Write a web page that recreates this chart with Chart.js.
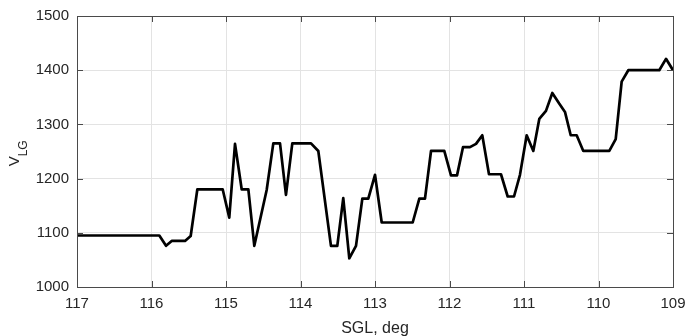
<!DOCTYPE html>
<html>
<head>
<meta charset="utf-8">
<script src="https://cdn.jsdelivr.net/npm/chart.js@4/dist/chart.umd.min.js"></script>
<style>
  html, body { margin: 0; padding: 0; background: #fff; }
  #wrap { width: 688px; height: 336px; }
</style>
</head>
<body>
<div id="wrap"><canvas id="c" width="688" height="336"></canvas></div>
<script>
// SGL angle (deg) and the corresponding V_LG readings
const sglDeg = [
  117.00, 115.895, 115.805, 115.729, 115.55, 115.474, 115.385, 115.044, 114.956, 114.879,
  114.789, 114.70, 114.62, 114.454, 114.365, 114.275, 114.195, 114.11, 113.859, 113.761,
  113.591, 113.506, 113.426, 113.345, 113.255, 113.170, 113.09, 113.00, 112.910, 112.494,
  112.405, 112.329, 112.248, 112.07, 111.98, 111.899, 111.819, 111.725, 111.644, 111.56,
  111.47, 111.309, 111.219, 111.134, 111.054, 110.964, 110.875, 110.795, 110.705, 110.62,
  110.53, 110.45, 110.373, 110.293, 110.204, 109.855, 109.769, 109.689, 109.60, 109.184,
  109.094, 109.00
];
const vLG = [
  1095, 1095, 1076, 1085, 1085, 1094, 1180, 1180, 1128, 1264,
  1180, 1180, 1076, 1179, 1265, 1265, 1170, 1265, 1265, 1251,
  1076, 1076, 1164, 1053, 1076, 1163, 1163, 1207, 1119, 1119,
  1163, 1163, 1251, 1251, 1206, 1206, 1258, 1258, 1264, 1280,
  1208, 1208, 1167, 1167, 1207, 1280, 1251, 1310, 1325, 1358,
  1339, 1323, 1280, 1280, 1251, 1251, 1273, 1379, 1400, 1400,
  1421, 1400
];
const xTicks = [117, 116, 115, 114, 113, 112, 111, 110, 109];
const yTicks = [1000, 1100, 1200, 1300, 1400, 1500];
const xTitle = 'SGL, deg';
const yTitleMain = 'V';
const yTitleSub = 'LG';

const FONT = '"Liberation Sans", Arial, Helvetica, sans-serif';
const AXIS_COLOR = '#4a4a4a';
const TEXT_COLOR = '#262626';

// Box outline, inward tick marks on all four sides, and axis titles
const frame = {
  id: 'frame',
  afterDraw(chart) {
    const { ctx, chartArea: a, scales: { x, y } } = chart;
    const L = 6;
    ctx.save();
    ctx.strokeStyle = AXIS_COLOR;
    ctx.lineWidth = 1;
    ctx.strokeRect(Math.round(a.left) + 0.5, Math.round(a.top) + 0.5,
                   Math.round(a.right - a.left), Math.round(a.bottom - a.top));
    ctx.beginPath();
    xTicks.forEach(v => {
      const px = Math.round(x.getPixelForValue(v)) + 0.5;
      ctx.moveTo(px, a.bottom); ctx.lineTo(px, a.bottom - L);
      ctx.moveTo(px, a.top); ctx.lineTo(px, a.top + L);
    });
    yTicks.forEach(v => {
      const py = Math.round(y.getPixelForValue(v)) + 0.5;
      ctx.moveTo(a.left, py); ctx.lineTo(a.left + L, py);
      ctx.moveTo(a.right, py); ctx.lineTo(a.right - L, py);
    });
    ctx.stroke();

    ctx.fillStyle = TEXT_COLOR;
    ctx.font = '16px ' + FONT;
    ctx.textAlign = 'center';
    ctx.textBaseline = 'alphabetic';
    ctx.fillText(xTitle, (a.left + a.right) / 2, 332.5);

    // rotated y title with subscript
    ctx.translate(18.5, 153.3);
    ctx.rotate(-Math.PI / 2);
    ctx.textAlign = 'left';
    ctx.font = '15px ' + FONT;
    const wMain = ctx.measureText(yTitleMain).width;
    ctx.font = '12px ' + FONT;
    const wSub = ctx.measureText(yTitleSub).width;
    const start = -(wMain + wSub) / 2;
    ctx.font = '15px ' + FONT;
    ctx.fillText(yTitleMain, start, 0);
    ctx.font = '12px ' + FONT;
    ctx.fillText(yTitleSub, start + wMain, 8);
    ctx.restore();
  }
};

new Chart(document.getElementById('c'), {
  type: 'line',
  data: {
    datasets: [{
      data: sglDeg.map((s, i) => ({ x: s, y: vLG[i] })),
      borderColor: '#000',
      borderWidth: 2.7,
      borderJoinStyle: 'round',
      borderCapStyle: 'butt',
      pointRadius: 0,
      tension: 0,
      fill: false
    }]
  },
  options: {
    responsive: false,
    animation: false,
    events: [],
    layout: { padding: { left: 0, right: 15, top: 16, bottom: 0 } },
    plugins: { legend: { display: false }, tooltip: { enabled: false } },
    scales: {
      x: {
        type: 'linear',
        reverse: true,
        min: 109, max: 117,
        afterFit(s) { s.height = 49; s.paddingLeft = 0; s.paddingRight = 0; },
        afterBuildTicks(s) { s.ticks = xTicks.map(v => ({ value: v })); },
        grid: { color: '#e3e3e3', drawTicks: false },
        border: { display: false },
        ticks: { color: TEXT_COLOR, font: { family: FONT, size: 15 }, padding: 8, maxRotation: 0,
                 callback: v => String(v) }
      },
      y: {
        type: 'linear',
        min: 1000, max: 1500,
        afterFit(s) { s.width = 77; s.paddingTop = 0; s.paddingBottom = 0; },
        afterBuildTicks(s) { s.ticks = yTicks.map(v => ({ value: v })); },
        grid: { color: '#e3e3e3', drawTicks: false },
        border: { display: false },
        ticks: { color: TEXT_COLOR, font: { family: FONT, size: 15 }, padding: 8,
                 callback: v => String(v) }
      }
    }
  },
  plugins: [frame]
});
</script>
</body>
</html>
